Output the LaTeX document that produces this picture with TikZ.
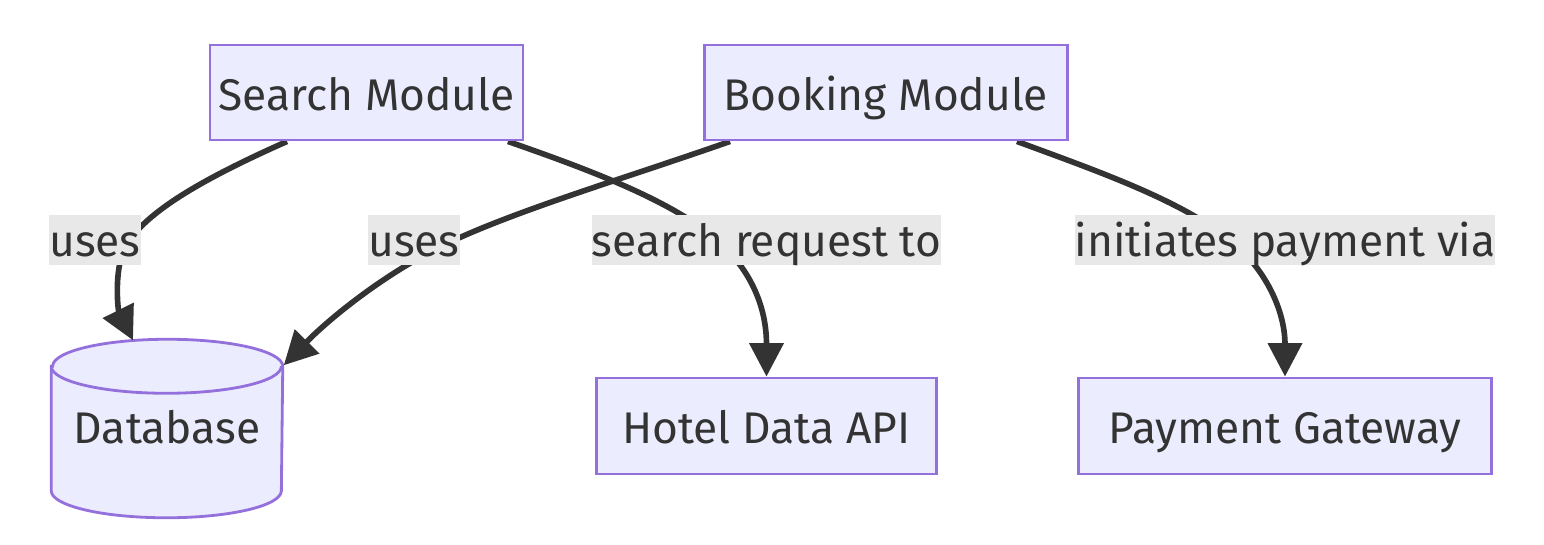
\documentclass[tikz,border=0pt]{standalone}
\usepackage{fontspec}
\setmainfont{Fira Sans}
\usetikzlibrary{arrows.meta,calc,backgrounds}
\definecolor{boxfill}{HTML}{ECECFF}
\definecolor{boxline}{HTML}{9370DB}
\definecolor{ink}{HTML}{333333}
\definecolor{lblfill}{HTML}{E8E8E8}

\begin{document}
\begin{tikzpicture}[x=0.01cm, y=0.01cm,
  >={Triangle[length=9.5pt,width=9.5pt]},
  box/.style={rectangle, draw=boxline, fill=boxfill, line width=0.8pt,
    text=ink, minimum height=0.95cm, inner sep=0pt,
    text height=10pt, text depth=0pt,
    font=\fontsize{12.6}{15}\selectfont},
  lbl/.style={rectangle, fill=lblfill, text=ink, inner xsep=0pt, inner ysep=0pt,
    text height=9.2pt, text depth=0pt,
    minimum height=0.5cm, font=\fontsize{12.6}{15}\selectfont},
  link/.style={->, draw=ink, line width=1.6pt}]
  %
  \useasboundingbox (0,0) rectangle (1544,-544);

  \node[box, minimum width=3.13cm] (search)  at (366.5,-92.5) {Search Module};
  \node[box, minimum width=3.62cm] (booking) at (886,-92.5)   {Booking Module};
  \node[box, minimum width=3.39cm, minimum height=0.96cm] (hotel)   at (766.5,-426) {Hotel Data API};
  \node[box, minimum width=4.12cm, minimum height=0.96cm] (payment) at (1285,-426)  {Payment Gateway};
  \node[rectangle, inner sep=0pt, minimum width=2.30cm, minimum height=1.77cm,
    text height=8.4pt, text depth=0pt,
    text=ink, font=\fontsize{12.6}{15}\selectfont] (db) at (167,-428.5) {Database};

  \node[lbl] (useA)   at (95,-240)    {uses};
  \node[lbl] (useB)   at (414,-240)   {uses};
  \node[lbl] (query)  at (766.5,-240) {search request to};
  \node[lbl] (pay)    at (1285,-240)  {initiates payment via};

  \begin{scope}[on background layer]
    % cylinder
    \filldraw[draw=boxline, fill=boxfill, line width=0.8pt]
      ($(db.north west)+(0,-27)$) -- ($(db.south west)+(0,27)$)
      arc[start angle=180, end angle=360, x radius=1.15cm, y radius=0.27cm]
      -- ($(db.north east)+(0,-27)$)
      arc[start angle=0, end angle=180, x radius=1.15cm, y radius=0.27cm] -- cycle;
    \draw[draw=boxline, line width=0.8pt] ($(db.north west)+(0,-27)$)
      arc[start angle=180, end angle=360, x radius=1.15cm, y radius=0.27cm];

    \draw[link] ($(search.south)+(-79.5,0)$) .. controls (200,-180) and (140,-215) .. (124,-250)
      .. controls (114,-272) and (118,-310) .. ($(db.north)+(-34,-1)$);
    \draw[link] ($(search.south)+(141.5,0)$) .. controls (590,-170) and (670,-200) .. (716,-239)
      .. controls (745,-264) and (766.5,-300) .. (hotel.north);
    \draw[link] ($(booking.south)+(-156,0)$) .. controls (620,-180) and (500,-215) .. (432,-251)
      .. controls (380,-278) and (330,-318) .. ($(db.north east)+(1,-26)$);
    \draw[link] ($(booking.south)+(131,0)$) .. controls (1100,-172) and (1180,-200) .. (1230,-240)
      .. controls (1265,-268) and (1285,-310) .. (payment.north);
  \end{scope}

\end{tikzpicture}
\end{document}
